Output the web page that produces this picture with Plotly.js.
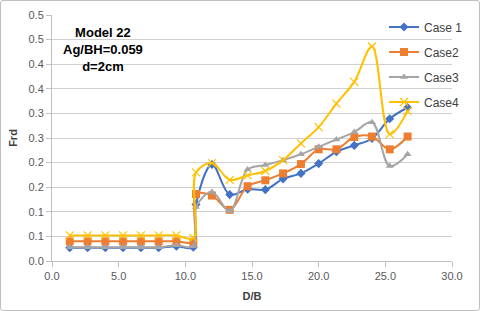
<!DOCTYPE html>
<html>
<head>
<meta charset="utf-8">
<script src="https://cdn.plot.ly/plotly-3.0.1.min.js"></script>
<style>
  html, body { margin: 0; padding: 0; background: #fff; }
  #wrap { position: relative; width: 480px; height: 311px; }
  #chart { width: 480px; height: 311px; }
  #frame { position: absolute; left: 0; top: 0; width: 480px; height: 311px; box-sizing: border-box;
           border: 1px solid #bfbfbf; border-radius: 3px; pointer-events: none; }
</style>
</head>
<body>
<div id="wrap"><div id="chart"></div><div id="frame"></div></div>
<script>
// D/B values
const dB = [1.33, 2.67, 4.0, 5.33, 6.67, 8.0, 9.33, 10.6, 10.8, 12.0, 13.33, 14.67, 16.0, 17.33, 18.67, 20.0, 21.33, 22.67, 24.0, 25.33, 26.67];
// Frd values per case
const case1 = [0.027, 0.027, 0.027, 0.027, 0.027, 0.027, 0.030, 0.028, 0.115, 0.196, 0.135, 0.146, 0.145, 0.167, 0.178, 0.198, 0.222, 0.235, 0.249, 0.289, 0.312];
const case2 = [0.040, 0.040, 0.040, 0.040, 0.040, 0.040, 0.040, 0.039, 0.136, 0.133, 0.104, 0.152, 0.164, 0.178, 0.197, 0.227, 0.227, 0.252, 0.253, 0.227, 0.253];
const case3 = [0.028, 0.028, 0.028, 0.028, 0.028, 0.028, 0.032, 0.030, 0.110, 0.140, 0.101, 0.186, 0.195, 0.205, 0.217, 0.232, 0.247, 0.262, 0.282, 0.193, 0.217];
const case4 = [0.052, 0.052, 0.052, 0.052, 0.052, 0.052, 0.052, 0.047, 0.180, 0.199, 0.165, 0.174, 0.183, 0.205, 0.239, 0.272, 0.320, 0.364, 0.436, 0.258, 0.305];
const seriesNames = ["Case 1", "Case2", "Case3", "Case4"];
// Axis ticks (Excel shows one decimal)
const yTickVals = [0, 0.05, 0.1, 0.15, 0.2, 0.25, 0.3, 0.35, 0.4, 0.45, 0.5];
const yTickText = ["0.0", "0.1", "0.1", "0.2", "0.2", "0.3", "0.3", "0.4", "0.4", "0.5", "0.5"];
const xTickVals = [0, 5, 10, 15, 20, 25, 30];
const xTickText = ["0.0", "5.0", "10.0", "15.0", "20.0", "25.0", "30.0"];

const colors = ["#4472C4", "#ED7D31", "#A5A5A5", "#FFC000"];
const symbols = ["diamond", "square", "triangle-up", "x-thin-open"];
const sizes = [7, 8, 7, 8];
const ys = [case1, case2, case3, case4];

const traces = ys.map((y, i) => ({
  x: dB, y: y, name: seriesNames[i], type: "scatter", mode: "lines+markers",
  legendgroup: "g" + i,
  line: { color: colors[i], width: 2, shape: "spline", smoothing: 1 },
  marker: { color: colors[i], symbol: symbols[i], size: sizes[i], line: { color: colors[i], width: i === 3 ? 1.2 : 0 } }
}));

const font = "Liberation Sans, Arial, sans-serif";
const layout = {
  width: 480, height: 311,
  margin: { l: 52, r: 24, t: 15, b: 50 },
  paper_bgcolor: "#fff", plot_bgcolor: "#fff",
  font: { family: font, size: 11, color: "#595959" },
  showlegend: true,
  legend: { x: 0.83, y: 1.01, xanchor: "left", yanchor: "top", bgcolor: "rgba(0,0,0,0)",
            font: { family: font, size: 12, color: "#404040" }, tracegroupgap: 6, traceorder: "grouped" },
  xaxis: {
    range: [0, 30], tickvals: xTickVals, ticktext: xTickText,
    showgrid: false, zeroline: false, showline: true, linecolor: "#bfbfbf", linewidth: 1,
    ticks: "outside", ticklen: 5, tickcolor: "#bfbfbf",
    title: { text: "<b>D/B</b>", font: { family: font, size: 11, color: "#404040" }, standoff: 11 }
  },
  yaxis: {
    range: [0, 0.5], tickvals: yTickVals, ticktext: yTickText,
    showgrid: true, gridcolor: "#d0d0d0", gridwidth: 1, zeroline: false,
    showline: true, linecolor: "#bfbfbf", linewidth: 1,
    ticks: "outside", ticklen: 5, tickcolor: "#bfbfbf",
    title: { text: "<b>Frd</b>", font: { family: font, size: 11, color: "#404040" }, standoff: 8 }
  },
  annotations: [{
    xref: "paper", yref: "paper", x: 0.128, y: 0.86, xanchor: "center", yanchor: "middle",
    text: "<b>Model 22</b><br><b>Ag/BH=0.059</b><br><b>d=2cm</b>", showarrow: false, align: "center",
    font: { family: font, size: 13, color: "#000" }
  }]
};

Plotly.newPlot("chart", traces, layout, { staticPlot: true, displayModeBar: false });
</script>
</body>
</html>
